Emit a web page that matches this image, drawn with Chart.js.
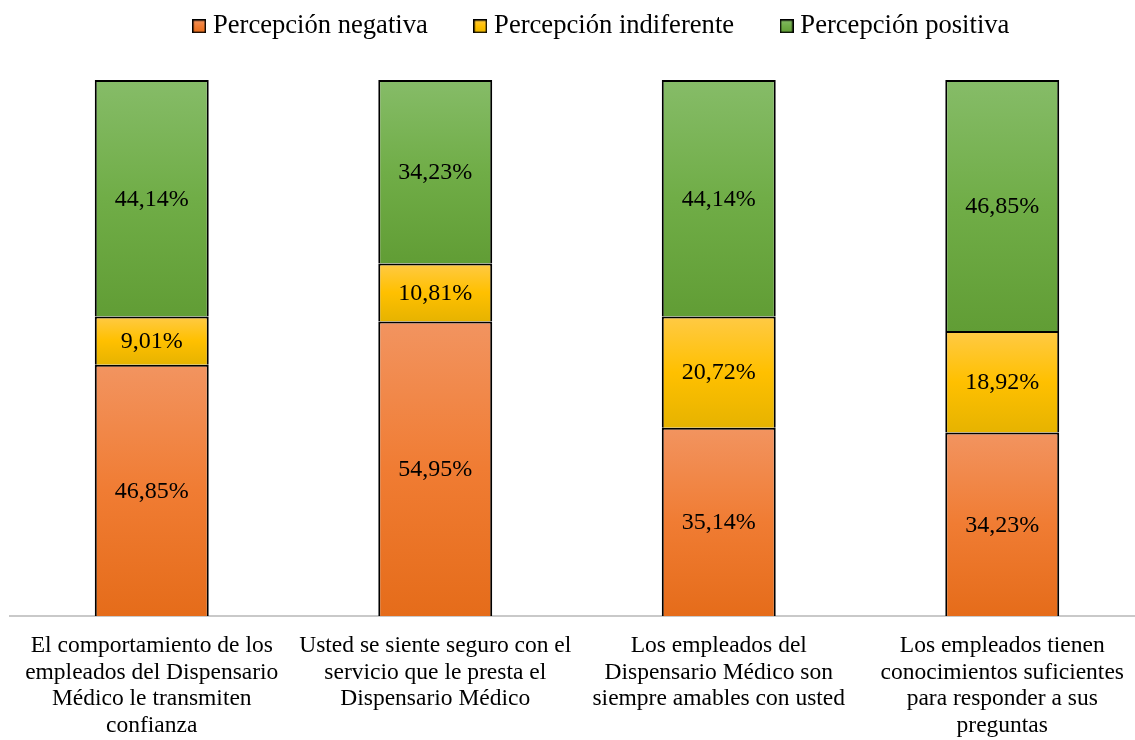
<!DOCTYPE html>
<html>
<head>
<meta charset="utf-8">
<script src="https://cdn.jsdelivr.net/npm/chart.js@4/dist/chart.umd.min.js"></script>
<style>
  html, body { margin: 0; padding: 0; background: #fff; overflow: hidden; }
  #wrap { width: 1150px; height: 756px; position: relative; }
</style>
</head>
<body>
<div id="wrap"><canvas id="c"></canvas></div>
<script>
const categories = [
  ["El comportamiento de los", "empleados del Dispensario", "Médico le transmiten", "confianza"],
  ["Usted se siente seguro con el", "servicio que le presta el", "Dispensario Médico"],
  ["Los empleados del", "Dispensario Médico son", "siempre amables con usted"],
  ["Los empleados tienen", "conocimientos suficientes", "para responder a sus", "preguntas"]
];
const seriesNames = ["Percepción negativa", "Percepción indiferente", "Percepción positiva"];
const negativa = [46.85, 54.95, 35.14, 34.23];
const indiferente = [9.01, 10.81, 20.72, 18.92];
const positiva = [44.14, 34.23, 44.14, 46.85];

const FONT = '"Liberation Serif", "Times New Roman", serif';
const gradStops = [
  ["#F29460", "#F07C33", "#E56C1A"],
  ["#FFCA45", "#FFC000", "#E6B300"],
  ["#86BC68", "#70AD47", "#619D35"]
];
const allSeries = [negativa, indiferente, positiva];

function makeGradient(dsIndex) {
  const stops = gradStops[dsIndex];
  return function (ctx) {
    const chart = ctx.chart;
    if (ctx.type !== 'data' || !chart.chartArea || !chart.scales.y) return stops[1];
    const i = ctx.dataIndex;
    let start = 0;
    for (let k = 0; k < dsIndex; k++) start += allSeries[k][i];
    const end = start + allSeries[dsIndex][i];
    const y = chart.scales.y;
    const top = y.getPixelForValue(end);
    const bottom = y.getPixelForValue(start);
    if (!isFinite(top) || !isFinite(bottom) || top === bottom) return stops[1];
    const g = chart.ctx.createLinearGradient(0, top, 0, bottom);
    g.addColorStop(0, stops[0]);
    g.addColorStop(0.5, stops[1]);
    g.addColorStop(1, stops[2]);
    return g;
  };
}

function legendIcon(dsIndex) {
  const c = document.createElement('canvas');
  c.width = 14; c.height = 14;
  const x = c.getContext('2d');
  const g = x.createLinearGradient(0, 0, 0, 14);
  g.addColorStop(0, gradStops[dsIndex][0]);
  g.addColorStop(0.5, gradStops[dsIndex][1]);
  g.addColorStop(1, gradStops[dsIndex][2]);
  x.fillStyle = g;
  x.fillRect(0, 0, 14, 14);
  x.strokeStyle = '#000';
  x.lineWidth = 1.5;
  x.strokeRect(0.75, 0.75, 12.5, 12.5);
  return c;
}
const icons = [legendIcon(0), legendIcon(1), legendIcon(2)];

const fmt = v => v.toFixed(2).replace('.', ',') + '%';

const valueLabels = {
  id: 'valueLabels',
  afterDatasetsDraw(chart) {
    const ctx = chart.ctx;
    ctx.save();
    ctx.font = '24px ' + FONT;
    ctx.fillStyle = '#000';
    ctx.textAlign = 'center';
    ctx.textBaseline = 'middle';
    chart.data.datasets.forEach((ds, di) => {
      const meta = chart.getDatasetMeta(di);
      meta.data.forEach((bar, i) => {
        const p = bar.getProps(['x', 'y', 'base'], true);
        ctx.fillText(fmt(ds.data[i]), p.x, (p.y + p.base) / 2 + 1);
      });
    });
    ctx.restore();
  }
};

const legendPlace = {
  id: 'legendPlace',
  afterLayout(chart) {
    const l = chart.legend;
    if (!l) return;
    const dx = 604 - (l.left + l.right) / 2;
    l.left += dx; l.right += dx;
    const dy = -39 - l.top;
    l.top += dy; l.bottom += dy;
  }
};

new Chart(document.getElementById('c'), {
  type: 'bar',
  data: {
    labels: categories,
    datasets: [
      { label: seriesNames[0], data: negativa, backgroundColor: makeGradient(0) },
      { label: seriesNames[1], data: indiferente, backgroundColor: makeGradient(1) },
      { label: seriesNames[2], data: positiva, backgroundColor: makeGradient(2) }
    ].map(d => Object.assign(d, {
      borderColor: '#000',
      borderWidth: 2,
      categoryPercentage: 1,
      barPercentage: 0.402
    }))
  },
  options: {
    responsive: true,
    maintainAspectRatio: false,
    animation: false,
    layout: { padding: { left: 10, right: 6, top: 0, bottom: 0 } },
    plugins: {
      tooltip: { enabled: false },
      legend: {
        position: 'top',
        maxHeight: 80,
        labels: {
          font: { family: FONT, size: 26.6 },
          color: '#000',
          padding: 52,
          usePointStyle: true,
          pointStyleWidth: 1,
          generateLabels(chart) {
            const items = Chart.defaults.plugins.legend.labels.generateLabels(chart);
            items.forEach((it, i) => { it.pointStyle = icons[i]; });
            return items;
          }
        }
      }
    },
    scales: {
      x: {
        stacked: true,
        z: 1,
        grid: { display: false, drawTicks: false },
        border: { display: true, color: '#C9C9C9', width: 2 },
        ticks: {
          font: { family: FONT, size: 23.5, lineHeight: 1.128 },
          color: '#000',
          padding: 17,
          maxRotation: 0,
          autoSkip: false
        }
      },
      y: {
        stacked: true,
        display: false,
        min: 0,
        max: 100
      }
    }
  },
  plugins: [valueLabels, legendPlace]
});
</script>
</body>
</html>
